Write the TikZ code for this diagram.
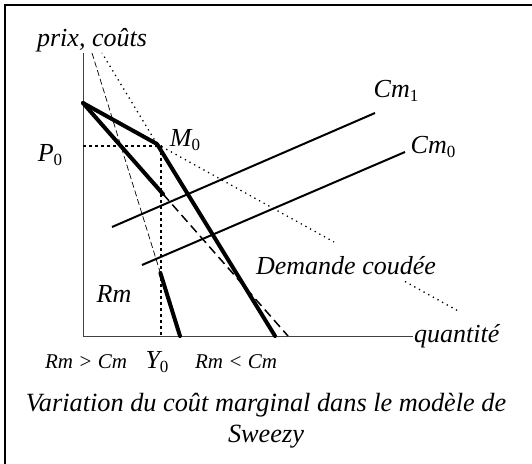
\documentclass[tikz,border=0pt]{standalone}
\usepackage{fontspec}
\setmainfont{Liberation Serif}
\begin{document}
\begin{tikzpicture}[x=1pt,y=-1pt,
  lbl/.style={font=\fontsize{26}{28}\selectfont\itshape, inner sep=0pt},
  small/.style={font=\fontsize{21}{22}\selectfont\itshape, inner sep=0pt},
  captxt/.style={font=\fontsize{26.3}{30}\selectfont\itshape, inner sep=0pt},
  axis/.style={line width=1pt, black!75},
  demand/.style={line width=4pt, line cap=round, line join=round},
  costline/.style={line width=2pt},
  extdot/.style={line width=1.3pt, dash pattern=on 1.3pt off 4pt},
  pdot/.style={line width=2pt, dash pattern=on 3pt off 3pt},
  thindash/.style={line width=0.7pt, dash pattern=on 6pt off 3pt},
  mrdash/.style={line width=1.5pt, dash pattern=on 9pt off 5pt},
  frame/.style={line width=2.5pt}]
\newcommand{\sbs}[1]{\raisebox{-4pt}{\fontsize{17}{18}\selectfont\upshape #1}}
\useasboundingbox (0,0) rectangle (532,463);
\clip (0,0) rectangle (532,463);
% frame
\draw[frame] (5,480) |- (545,5);
% coordinates
\coordinate (O) at (83,336);
\coordinate (ytop) at (83,53);
\coordinate (xend) at (413,336);
\coordinate (A) at (83,103);
\coordinate (M) at (157,144);
\coordinate (D) at (275,336);
\coordinate (Ltop) at (102,53);
\coordinate (U1) at (334,242);
\coordinate (U2) at (405,281.5);
\coordinate (U3) at (460,312);
\coordinate (R1) at (163,194);
\coordinate (R1end) at (288,336);
\coordinate (R2top) at (92,53);
\coordinate (R2mid) at (160.4,273);
\coordinate (R2end) at (180,336);
\coordinate (P0l) at (83,146);
\coordinate (P0c) at (161,146);
\coordinate (Y0b) at (161,336);
\coordinate (C1a) at (112,227);
\coordinate (C1b) at (375,113);
\coordinate (C0a) at (142,265);
\coordinate (C0b) at (405,152);
% axes
\draw[axis] (ytop) -- (O) -- (xend);
% dotted extensions
\draw[extdot] (M) -- (Ltop);
\draw[extdot] (M) -- (U1);
\draw[extdot] (U2) -- (U3);
% P0, Y0 dotted
\draw[pdot] (P0l) -- (P0c) -- (Y0b);
% marginal revenue
\draw[thindash] (R2top) -- (R2mid);
\draw[demand] (R2mid) -- (R2end);
\draw[mrdash] (R1) -- (R1end);
\draw[demand] (A) -- (R1);
% cost lines
\draw[costline] (C1a) -- (C1b);
\draw[costline] (C0a) -- (C0b);
% kinked demand
\draw[demand] (A) -- (M) -- (D);
% labels
\node[lbl] (prix) at (92,40) {prix, coûts};
\node[lbl] (P0) at (50,155) {P\sbs{0}};
\node[lbl] (M0) at (185,140) {M\sbs{0}};
\node[lbl] (Cm1) at (396,91) {Cm\sbs{1}};
\node[lbl] (Cm0) at (433,147) {Cm\sbs{0}};
\node[lbl] (Rm) at (114,294) {Rm};
\node[lbl] (dem) at (346,266) {Demande coudée};
\node[lbl, anchor=west] (qte) at (414,336) {quantité};
\node[small] (rg) at (86,362) {Rm > Cm};
\node[lbl] (Y0) at (157,362) {Y\sbs{0}};
\node[small] (rl) at (236,362) {Rm < Cm};
\node[captxt] (cap1) at (266,405) {Variation du coût marginal dans le modèle de};
\node[captxt] (cap2) at (266,437) {Sweezy};
\end{tikzpicture}
\end{document}
